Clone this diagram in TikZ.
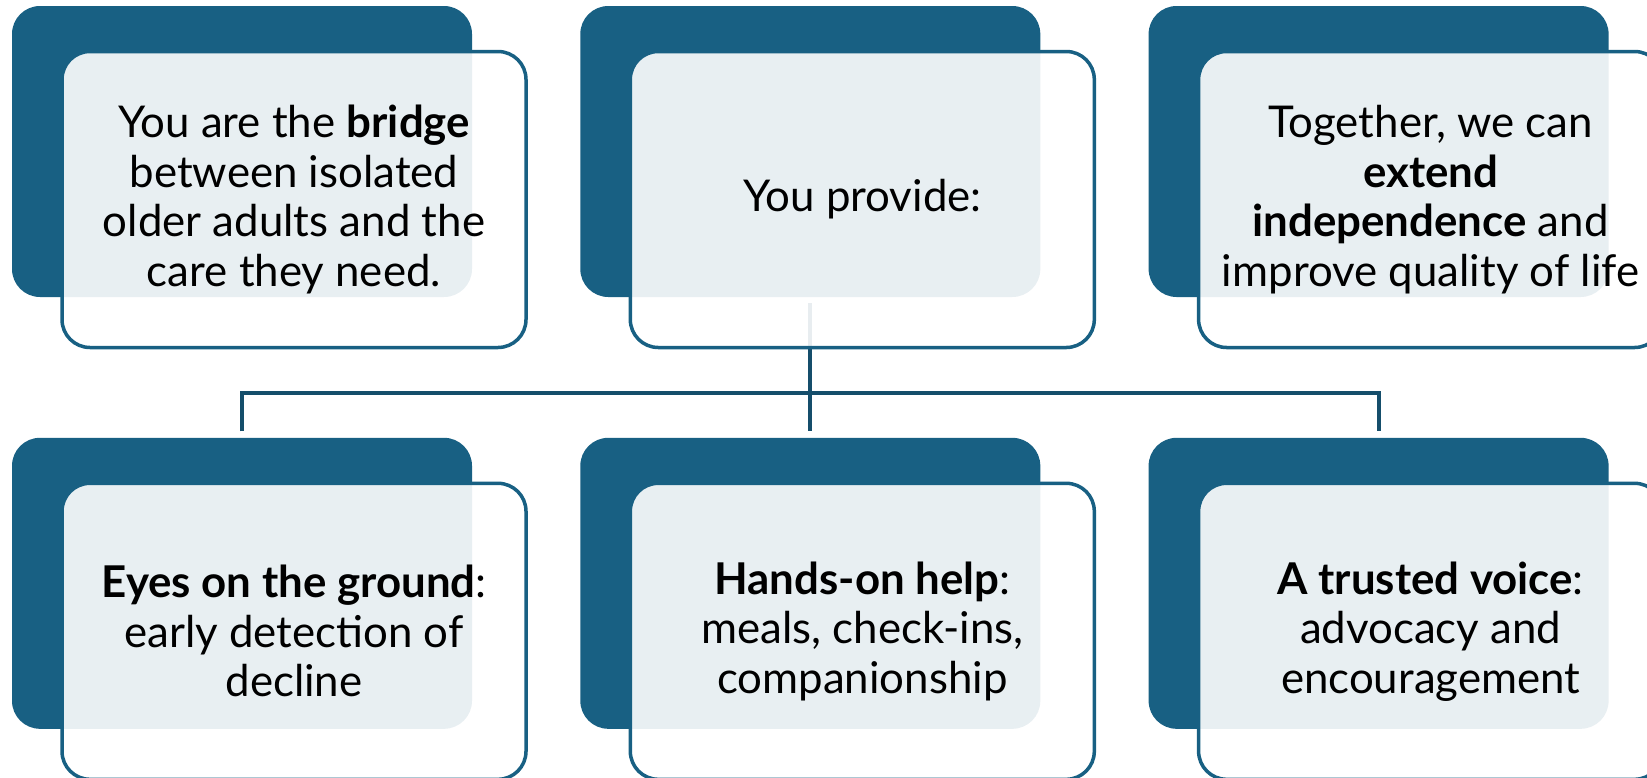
\documentclass[tikz,border=0pt]{standalone}
\usepackage{fontspec}
\setmainfont{Lato}
\usetikzlibrary{positioning,calc}
\definecolor{cardblue}{RGB}{24,96,131}
\definecolor{linkblue}{RGB}{21,78,107}
\tikzstyle{back} = [rectangle, fill=cardblue, rounded corners=14pt, minimum width=230pt, minimum height=145.5pt, inner sep=0pt]
\tikzstyle{card} = [rectangle, draw=cardblue, line width=1.75pt, fill=white, fill opacity=0.9, text opacity=1, rounded corners=14pt, minimum width=232pt, minimum height=148pt, align=center, font=\fontsize{21.9}{24.75}\selectfont]
\tikzstyle{link} = [draw=linkblue, line width=2pt]
\pgfdeclarelayer{background}
\pgfsetlayers{background,main}

\begin{document}
\begin{tikzpicture}[x=0.5pt, y=-0.5pt, node distance=70pt and 53.75pt]
    \useasboundingbox (0,0) rectangle (1647,777);

    % Place the dark back plates
    \node [back] (bridge-back) at (242,151.5) {};
    \node [back, right=of bridge-back] (provide-back) {};
    \node [back, right=of provide-back] (together-back) {};
    \node [back, below=of bridge-back] (eyes-back) {};
    \node [back, right=of eyes-back] (hands-back) {};
    \node [back, right=of hands-back] (voice-back) {};
    % Place the cards over the plates
    \node [card] (bridge) at ([shift={(52,48)}]bridge-back.center) {You are the \textbf{bridge}\\between isolated\\older adults and the\\care they need.};
    \node [card] (provide) at ([shift={(52,48)}]provide-back.center) {You provide:};
    \node [card] (together) at ([shift={(52,48)}]together-back.center) {Together, we can\\\textbf{extend}\\\textbf{independence} and\\improve quality of life};
    \node [card] (eyes) at ([shift={(52,48)}]eyes-back.center) {\textbf{Eyes on the ground}:\\early detection of\\decline};
    \node [card] (hands) at ([shift={(52,48)}]hands-back.center) {\textbf{Hands-on help}:\\meals, check-ins,\\companionship};
    \node [card] (voice) at ([shift={(52,48)}]voice-back.center) {\textbf{A trusted voice}:\\advocacy and\\encouragement};
    % Draw edges, behind the cards
    \begin{pgfonlayer}{background}
        \coordinate (hub) at ($(provide.south)!0.5!(hands-back.north)$);
        \path [link] ([yshift=-3pt]provide-back.south) -- ([yshift=3pt]hands-back.north);
        \path [link] ([yshift=3pt]eyes-back.north) -- (eyes-back.north |- hub)
            -- (voice-back.north |- hub) -- ([yshift=3pt]voice-back.north);
    \end{pgfonlayer}
\end{tikzpicture}
\end{document}
